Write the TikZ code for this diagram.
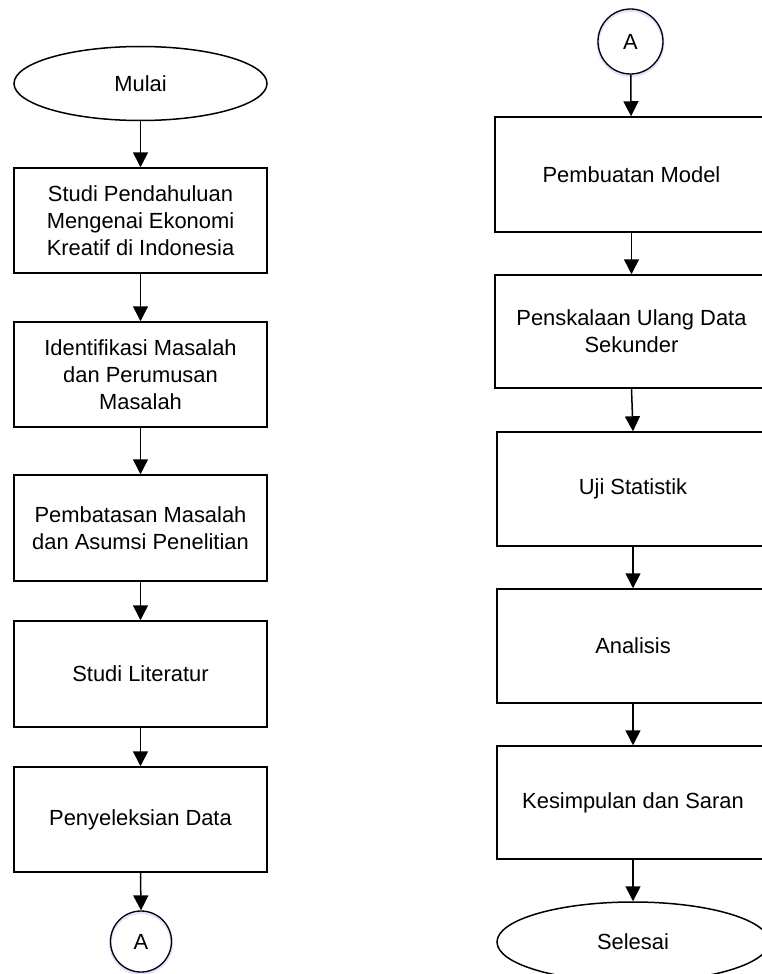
\documentclass[tikz,border=0pt]{standalone}
\usepackage{fontspec}
\setmainfont{Liberation Sans}
\usetikzlibrary{shapes.geometric,arrows.meta}
\begin{document}
\begin{tikzpicture}[x=1pt,y=-1pt,
  every node/.style={font=\fontsize{21.9}{27}\selectfont, inner sep=0pt, align=center},
  procbox/.style={draw, line width=1.5pt, rectangle, minimum width=#1},
  procbox/.default=253pt,
  term/.style={draw, line width=1.5pt, ellipse},
  conn/.style={draw, line width=1.3pt, circle,
    preaction={draw=blue!12, line width=3pt, transform canvas={yshift=-1.5pt}}},
  flow/.style={line width=1.5pt, -{Triangle[width=15pt,length=15pt]}}
]
\useasboundingbox (0,0) rectangle (762,974);
\fill[white] (0,0) rectangle (762,974);
% left column
\node[term, minimum width=253pt, minimum height=74pt] (mulai) at (140.5,83.5) {Mulai};
\node[procbox, minimum height=105pt] (b1) at (140.5,220.5) {Studi Pendahuluan\\Mengenai Ekonomi\\Kreatif di Indonesia};
\node[procbox, minimum height=105pt] (b2) at (140.5,374.5) {Identifikasi Masalah\\dan Perumusan\\Masalah};
\node[procbox, minimum height=106pt] (b3) at (140.5,528) {Pembatasan Masalah\\dan Asumsi Penelitian};
\node[procbox, minimum height=106pt] (b4) at (140.5,674) {Studi Literatur};
\node[procbox, minimum height=105pt] (b5) at (140.5,819.5) {Penyeleksian Data};
\node[conn, minimum size=61pt] (a1) at (141,941.5) {A};
% right column
\node[conn, minimum size=65pt] (a2) at (630.5,41.5) {A};
\node[procbox=273pt, minimum height=115pt] (r1) at (631.5,174.5) {Pembuatan Model};
\node[procbox=273pt, minimum height=113pt] (r2) at (631.5,331.5) {Penskalaan Ulang Data\\Sekunder};
\node[procbox=272pt, minimum height=114pt] (r3) at (633,489) {Uji Statistik};
\node[procbox=272pt, minimum height=114pt] (r4) at (633,646) {Analisis};
\node[procbox=272pt, minimum height=113pt] (r5) at (633,802.5) {Kesimpulan dan Saran};
\node[term, minimum width=272pt, minimum height=80pt] (selesai) at (633,942) {Selesai};
% connectors
\draw[flow] (mulai) -- (b1);
\draw[flow] (b1) -- (b2);
\draw[flow] (b2) -- (b3);
\draw[flow] (b3) -- (b4);
\draw[flow] (b4) -- (b5);
\draw[flow] (b5.south) -- (a1.north);
\draw[flow] (a2) -- (r1);
\draw[flow] (r1) -- (r2);
\draw[flow] (r2.south) -- (r3.north);
\draw[flow] (r3) -- (r4);
\draw[flow] (r4) -- (r5);
\draw[flow] (r5.south) -- (selesai.north);
\end{tikzpicture}
\end{document}
